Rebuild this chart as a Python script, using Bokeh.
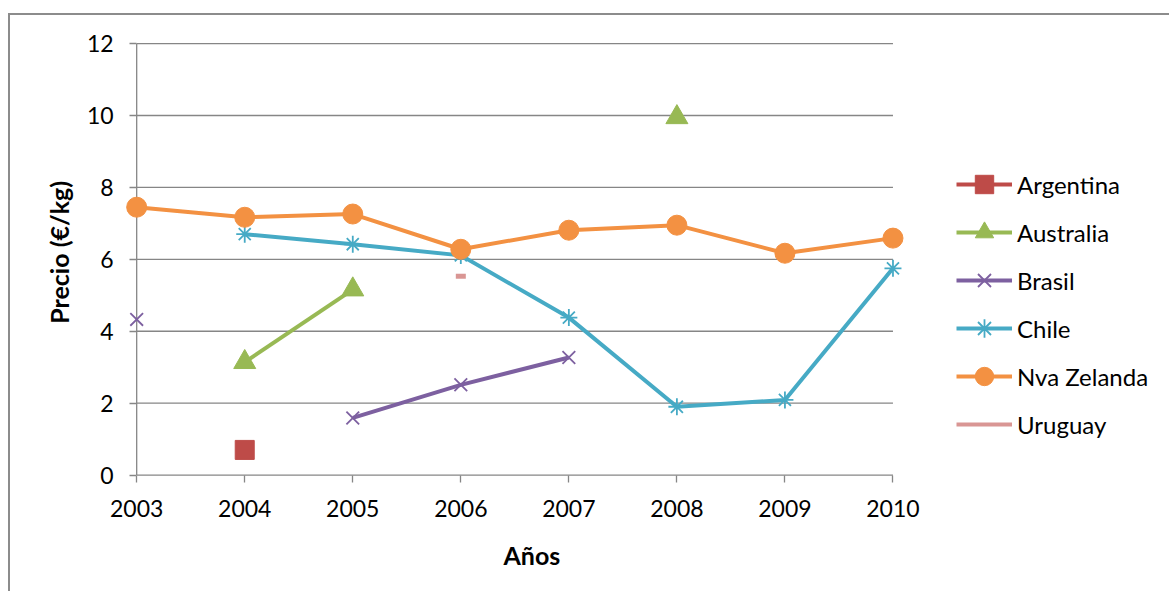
import math
from bokeh.plotting import figure
from bokeh.models import ColumnDataSource, Legend, LegendItem, FixedTicker, Label
from bokeh.embed import file_html
from bokeh.resources import INLINE

nan = math.nan

years = [2003, 2004, 2005, 2006, 2007, 2008, 2009, 2010]
argentina = [nan, 0.70, nan, nan, nan, nan, nan, nan]
australia = [nan, 3.14, 5.16, nan, nan, 9.95, nan, nan]
brasil = [4.33, nan, 1.59, 2.51, 3.27, nan, nan, nan]
chile = [nan, 6.70, 6.42, 6.11, 4.38, 1.90, 2.09, 5.75]
nva_zelanda = [7.45, 7.17, 7.26, 6.28, 6.81, 6.95, 6.17, 6.59]
uruguay = [nan, nan, nan, 5.53, nan, nan, nan, nan]

y_ticks = [0, 2, 4, 6, 8, 10, 12]

FONT = "Lato"
GRID = "#868686"

# The frame fills the whole figure so that nothing (end markers, tick
# labels, legend) is clipped; axes are pinned to the data corner instead.
pad_left, pad_right = 1.168, 2.578
pad_bottom, pad_top = 3.293, 0.781

p = figure(
    width=1161, height=578,
    x_range=(years[0] - pad_left, years[-1] + pad_right),
    y_range=(y_ticks[0] - pad_bottom, y_ticks[-1] + pad_top),
    output_backend="svg", toolbar_location=None,
    min_border=0,
)
p.margin = (13, 0, 0, 8)
p.styles = {"border-left": "2px solid #8c8c8c", "border-top": "2px solid #8c8c8c"}
p.outline_line_color = None
p.background_fill_color = "white"
p.border_fill_color = "white"
p.xgrid.grid_line_color = None
p.ygrid.grid_line_color = None

# horizontal grid lines (the one at 0 doubles as the x axis line)
p.segment(x0=[years[0]] * len(y_ticks), x1=[years[-1]] * len(y_ticks),
          y0=y_ticks, y1=y_ticks, line_color=GRID, line_width=1.3)
# vertical axis line
p.segment(x0=[years[0]], x1=[years[0]], y0=[y_ticks[0]], y1=[y_ticks[-1]],
          line_color=GRID, line_width=1.3)

# axes
p.xaxis.ticker = FixedTicker(ticks=years)
p.yaxis.ticker = FixedTicker(ticks=y_ticks)
p.xaxis.fixed_location = y_ticks[0]
p.yaxis.fixed_location = years[0]
for ax in (p.xaxis[0], p.yaxis[0]):
    ax.axis_line_color = None
    ax.major_tick_line_color = GRID
    ax.major_tick_line_width = 1.3
    ax.major_tick_in = 0
    ax.major_tick_out = 7
    ax.minor_tick_line_color = None
    ax.major_label_text_font = FONT
    ax.major_label_text_font_size = "23px"
    ax.major_label_text_color = "black"
p.xaxis.major_label_standoff = 18
p.yaxis.major_label_standoff = 16

# axis titles
p.add_layout(Label(
    x=(years[0] + years[-1]) / 2, y=y_ticks[0], x_offset=17, y_offset=-80,
    text="Años", text_font=FONT, text_font_size="25px",
    text_font_style="bold", text_color="black",
    text_align="center", text_baseline="middle",
))
p.add_layout(Label(
    x=years[0], y=(y_ticks[0] + y_ticks[-1]) / 2, x_offset=-78, y_offset=7,
    angle=math.pi / 2,
    text="Precio (€/kg)", text_font=FONT, text_font_size="25px",
    text_font_style="bold", text_color="black",
    text_align="center", text_baseline="middle",
))

src = ColumnDataSource(dict(
    x=years, arg=argentina, aus=australia, bra=brasil,
    chi=chile, nz=nva_zelanda, uru=uruguay,
))

C_ARG = "#BE4B48"
C_AUS = "#98B954"
C_BRA = "#7D60A0"
C_CHI = "#46AAC5"
C_NZ = "#F39142"
C_URU = "#D99694"
LW = 4

items = []

l = p.line("x", "arg", source=src, line_color=C_ARG, line_width=LW)
m = p.scatter("x", "arg", source=src, marker="square", size=19,
              fill_color=C_ARG, line_color=C_ARG)
items.append(LegendItem(label="Argentina", renderers=[l, m]))

l = p.line("x", "aus", source=src, line_color=C_AUS, line_width=LW)
m = p.scatter("x", "aus", source=src, marker="triangle", size=22,
              fill_color=C_AUS, line_color=C_AUS)
items.append(LegendItem(label="Australia", renderers=[l, m]))

l = p.line("x", "bra", source=src, line_color=C_BRA, line_width=LW)
m = p.scatter("x", "bra", source=src, marker="x", size=18,
              line_color=C_BRA, line_width=1.8)
items.append(LegendItem(label="Brasil", renderers=[l, m]))

l = p.line("x", "chi", source=src, line_color=C_CHI, line_width=LW)
m = p.scatter("x", "chi", source=src, marker="asterisk", size=17,
              line_color=C_CHI, line_width=1.8)
items.append(LegendItem(label="Chile", renderers=[l, m]))

l = p.line("x", "nz", source=src, line_color=C_NZ, line_width=LW)
m = p.scatter("x", "nz", source=src, marker="circle", size=20,
              fill_color=C_NZ, line_color=C_NZ)
items.append(LegendItem(label="Nva Zelanda", renderers=[l, m]))

l = p.line("x", "uru", source=src, line_color=C_URU, line_width=LW)
d = p.scatter("x", "uru", source=src, marker="dash", size=10,
              line_color=C_URU, line_width=5)
items.append(LegendItem(label="Uruguay", renderers=[l]))

legend = Legend(
    items=items, location=(946, 146), orientation="vertical",
    border_line_color=None, background_fill_alpha=0,
    padding=0, margin=0, spacing=2,
    glyph_width=56, glyph_height=46, label_height=46,
    label_standoff=5,
    label_text_font=FONT, label_text_font_size="24px",
    label_text_color="black",
)
p.add_layout(legend, "center")

open("out.html", "w").write(file_html(p, INLINE))
